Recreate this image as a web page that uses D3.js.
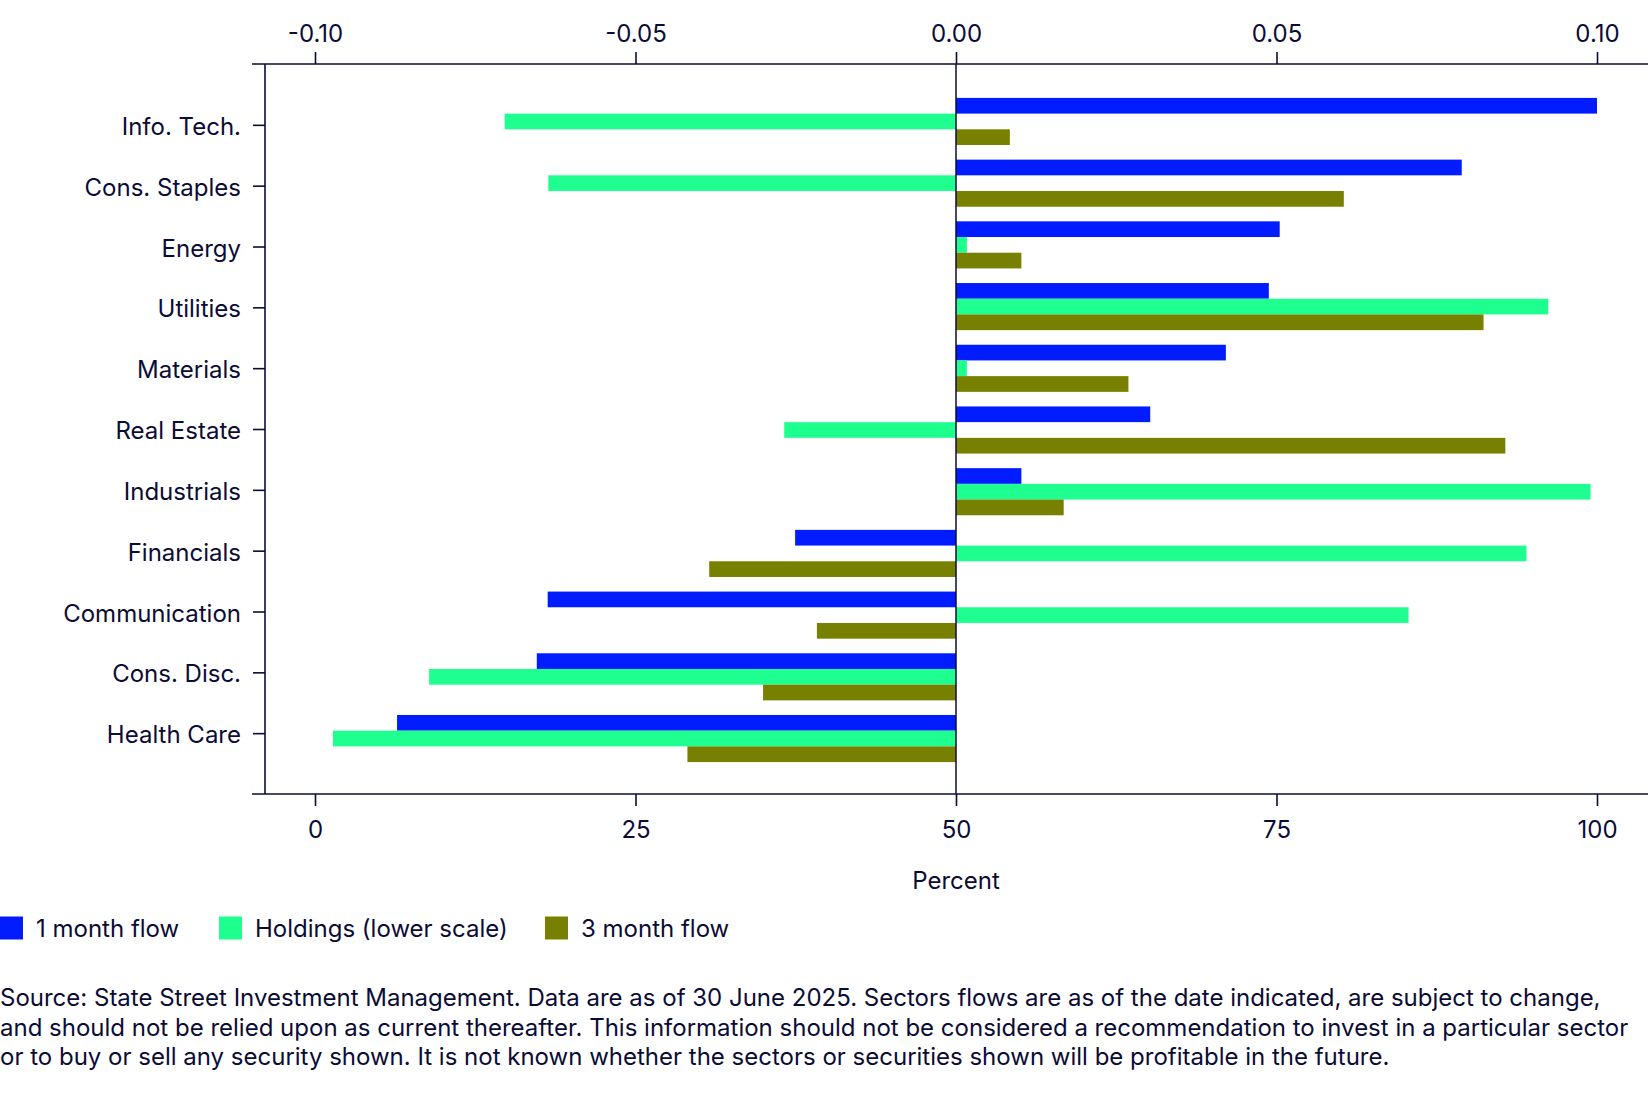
<!DOCTYPE html>
<html>
<head>
<meta charset="utf-8">
<script src="https://cdn.jsdelivr.net/npm/d3@7"></script>
<style>
  body { margin: 0; background: #fff; }
  svg { display: block; font-family: Inter, "Noto Sans", sans-serif; }
</style>
</head>
<body>
<div id="chart"></div>
<script>
// donnees
const sectors = ["Info. Tech.", "Cons. Staples", "Energy", "Utilities", "Materials", "Real Estate",
  "Industrials", "Financials", "Communication", "Cons. Disc.", "Health Care"];
const oneMonth = [0.100, 0.0789, 0.0505, 0.0488, 0.0421, 0.0303, 0.0102, -0.0251, -0.0637, -0.0654, -0.0872];
const holdings = [14.8, 18.2, 50.85, 96.2, 50.85, 36.6, 99.5, 94.5, 85.3, 8.9, 1.4];
const threeMonth = [0.0084, 0.0605, 0.0102, 0.0823, 0.0269, 0.0857, 0.0168, -0.0385, -0.0217, -0.0301, -0.0419];

const topTicks = [-0.10, -0.05, 0, 0.05, 0.10];
const bottomTicks = [0, 25, 50, 75, 100];
const legendLabels = ["1 month flow", "Holdings (lower scale)", "3 month flow"];
const sourceLines = [
  "Source: State Street Investment Management. Data are as of 30 June 2025. Sectors flows are as of the date indicated, are subject to change,",
  "and should not be relied upon as current thereafter. This information should not be considered a recommendation to invest in a particular sector",
  "or to buy or sell any security shown. It is not known whether the sectors or securities shown will be profitable in the future."
];

const colors = ["#001cff", "#1fff8f", "#788000"];
const ink = "#0b0c36";
const fontSize = "24px";

const width = 1648, height = 1119;
const plot = { left: 265, top: 64, bottom: 794, axisStart: 252 };

const svg = d3.select("#chart")
  .append("svg")
  .attr("width", width)
  .attr("height", height);

const xTop = d3.scaleLinear().domain([-0.1, 0.1]).range([315, 1597]);
const xBot = d3.scaleLinear().domain([0, 100]).range([315, 1597]);

// position des ticks et des groupes de barres
const yTick = d3.scalePoint().domain(sectors).range([plot.top, plot.bottom]).padding(1);
const yBar = d3.scalePoint().domain(sectors).range([plot.top + 1, plot.bottom + 1]).padding(0.915);
const barH = 15.7;

const rows = sectors.map((s, i) => ({ s, one: oneMonth[i], hold: holdings[i], three: threeMonth[i] }));

const bars = svg.append("g");

// 1 month flow
bars.selectAll(".one")
  .data(rows)
  .join("rect")
  .attr("x", d => Math.min(xTop(0), xTop(d.one)))
  .attr("width", d => Math.abs(xTop(d.one) - xTop(0)))
  .attr("y", d => yBar(d.s) - 1.5 * barH)
  .attr("height", barH)
  .attr("fill", colors[0]);

// holdings (echelle du bas, a partir de 50)
bars.selectAll(".hold")
  .data(rows)
  .join("rect")
  .attr("x", d => Math.min(xBot(50), xBot(d.hold)))
  .attr("width", d => Math.abs(xBot(d.hold) - xBot(50)))
  .attr("y", d => yBar(d.s) - 0.5 * barH)
  .attr("height", barH)
  .attr("fill", colors[1]);

// 3 month flow
bars.selectAll(".three")
  .data(rows)
  .join("rect")
  .attr("x", d => Math.min(xTop(0), xTop(d.three)))
  .attr("width", d => Math.abs(xTop(d.three) - xTop(0)))
  .attr("y", d => yBar(d.s) + 0.5 * barH)
  .attr("height", barH)
  .attr("fill", colors[2]);

// ligne du zero
svg.append("line")
  .attr("x1", xTop(0)).attr("x2", xTop(0))
  .attr("y1", plot.top).attr("y2", plot.bottom)
  .attr("stroke", ink).attr("stroke-width", 1.5);

// axe du haut
const gTop = svg.append("g")
  .attr("transform", `translate(0, ${plot.top})`)
  .call(d3.axisTop(xTop).tickValues(topTicks).tickSize(12).tickPadding(10)
    .tickFormat(d => d.toFixed(2)));

// axe du bas
const gBot = svg.append("g")
  .attr("transform", `translate(0, ${plot.bottom})`)
  .call(d3.axisBottom(xBot).tickValues(bottomTicks).tickSize(12).tickPadding(15));

// axe gauche
const gLeft = svg.append("g")
  .attr("transform", `translate(${plot.left}, 0)`)
  .call(d3.axisLeft(yTick).tickSize(12).tickPadding(12));

[gTop, gBot, gLeft].forEach(g => {
  g.select(".domain").remove();
  g.selectAll("line").attr("stroke", ink).attr("stroke-width", 1.6);
  g.selectAll("text").attr("fill", ink).style("font-size", fontSize).style("font-family", "Inter, 'Noto Sans', sans-serif");
});
gLeft.selectAll("text").attr("dy", "0.4em");

// lignes des axes
svg.append("line").attr("x1", plot.axisStart).attr("x2", width)
  .attr("y1", plot.top).attr("y2", plot.top).attr("stroke", ink).attr("stroke-width", 1.6);
svg.append("line").attr("x1", plot.axisStart).attr("x2", width)
  .attr("y1", plot.bottom).attr("y2", plot.bottom).attr("stroke", ink).attr("stroke-width", 1.6);
svg.append("line").attr("x1", plot.left).attr("x2", plot.left)
  .attr("y1", plot.top).attr("y2", plot.bottom).attr("stroke", ink).attr("stroke-width", 1.6);

// titre axe
svg.append("text")
  .attr("x", xBot(50)).attr("y", 889)
  .attr("text-anchor", "middle")
  .attr("fill", ink).style("font-size", fontSize)
  .text("Percent");

// legende
const legendX = [0, 219, 545];
const legend = svg.append("g").attr("transform", "translate(0, 928)");
legendLabels.forEach((l, i) => {
  legend.append("rect").attr("x", legendX[i]).attr("y", -11.5).attr("width", 23).attr("height", 23).attr("fill", colors[i]);
  legend.append("text").attr("x", legendX[i] + 36).attr("y", 0).attr("dy", "0.36em")
    .attr("fill", ink).style("font-size", fontSize).text(l);
});

// source
svg.append("g").selectAll("text")
  .data(sourceLines)
  .join("text")
  .attr("x", 0)
  .attr("y", (d, i) => 1006 + i * 29.5)
  .attr("fill", ink)
  .style("font-size", fontSize)
  .text(d => d);
</script>
</body>
</html>
